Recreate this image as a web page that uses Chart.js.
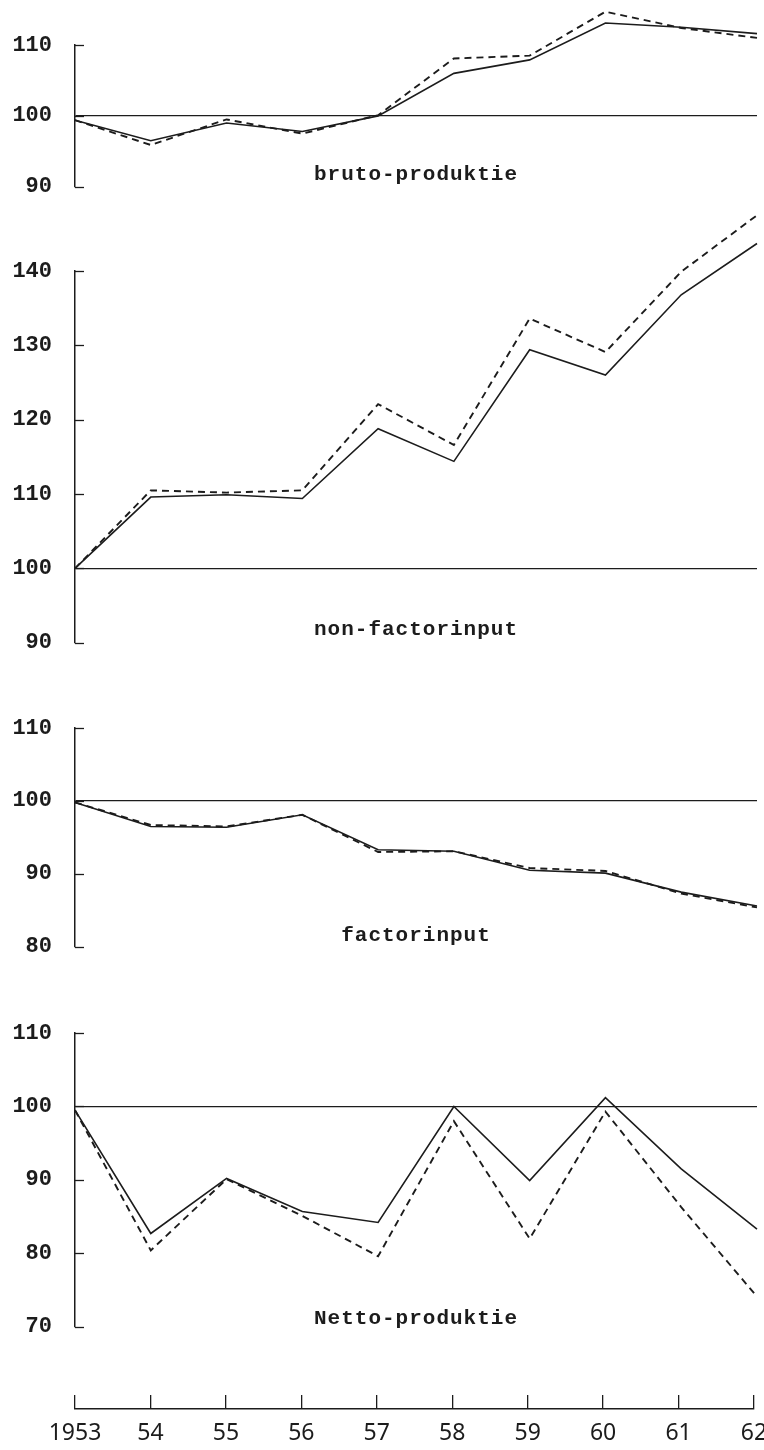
<!DOCTYPE html>
<html>
<head>
<meta charset="utf-8">
<script src="https://cdn.jsdelivr.net/npm/chart.js@4.4.0/dist/chart.umd.min.js"></script>
<style>
  html, body { margin: 0; width: 764px; height: 1450px; overflow: hidden; background: #fff; }
  canvas { position: absolute; left: 0; }
</style>
</head>
<body>
<canvas id="p1"></canvas>
<canvas id="p2"></canvas>
<canvas id="p3"></canvas>
<canvas id="p4"></canvas>
<canvas id="jaren"></canvas>
<script>
const years = ['1953', '54', '55', '56', '57', '58', '59', '60', '61', '62'];

// indexcijfers per reeks: doorgetrokken lijn en gestreepte lijn
const brutoSolid  = [99.4, 96.5, 99.0, 97.8, 100.0, 106.0, 107.9, 113.1, 112.5, 111.6];
const brutoDashed = [99.4, 95.9, 99.5, 97.5, 100.1, 108.1, 108.5, 114.7, 112.4, 111.0];

const nonFactorSolid  = [100.0, 109.6, 109.9, 109.4, 118.8, 114.4, 129.4, 126.0, 136.8, 143.7];
const nonFactorDashed = [100.0, 110.5, 110.2, 110.5, 122.1, 116.6, 133.6, 129.1, 139.9, 147.5];

const factorSolid  = [99.8, 96.5, 96.4, 98.1, 93.3, 93.1, 90.5, 90.1, 87.5, 85.6];
const factorDashed = [99.8, 96.7, 96.5, 98.1, 93.0, 93.1, 90.8, 90.4, 87.3, 85.4];

const nettoSolid  = [99.5, 82.7, 90.2, 85.7, 84.2, 100.0, 89.9, 101.2, 91.5, 83.3];
const nettoDashed = [99.5, 80.4, 90.1, 85.1, 79.6, 98.0, 82.0, 99.3, 86.3, 74.1];

const ink = '#1c1c1c';
const mono = '"Liberation Mono", "DejaVu Sans Mono", monospace';

// short tick marks pointing into the plot, and the panel name
const panelDecor = {
  id: 'panelDecor',
  afterDatasetsDraw(chart, args, opts) {
    const { ctx, chartArea } = chart;
    const y = chart.scales.y;
    ctx.save();
    ctx.strokeStyle = ink;
    ctx.lineWidth = 1.3;
    y.ticks.forEach(t => {
      const py = Math.round(y.getPixelForValue(t.value)) + 0.5;
      ctx.beginPath();
      ctx.moveTo(chartArea.left, py);
      ctx.lineTo(chartArea.left + 9, py);
      ctx.stroke();
    });
    ctx.fillStyle = ink;
    ctx.font = 'bold 21px ' + mono;
    ctx.letterSpacing = '1px';
    ctx.textAlign = 'center';
    ctx.textBaseline = 'alphabetic';
    ctx.fillText(opts.text, (chartArea.left + chartArea.right) / 2, y.getPixelForValue(opts.at));
    ctx.restore();
  }
};

const panels = [
  { id: 'p1', top: 45, bottom: 193, min: 90, max: 110, name: 'bruto-produktie', nameAt: 91, solid: brutoSolid, dashed: brutoDashed },
  { id: 'p2', top: 271, bottom: 649, min: 90, max: 140, name: 'non-factorinput', nameAt: 91.1, solid: nonFactorSolid, dashed: nonFactorDashed },
  { id: 'p3', top: 728, bottom: 953, min: 80, max: 110, name: 'factorinput', nameAt: 80.8, solid: factorSolid, dashed: factorDashed },
  { id: 'p4', top: 1033, bottom: 1333, min: 70, max: 110, name: 'Netto-produktie', nameAt: 70.4, solid: nettoSolid, dashed: nettoDashed },
];

const padTop = 70, padBottom = 30;

panels.forEach(p => {
  const cv = document.getElementById(p.id);
  cv.width = 800;
  cv.height = p.bottom - p.top + padTop + padBottom;
  cv.style.top = (p.top - padTop) + 'px';

  new Chart(cv, {
    type: 'line',
    data: {
      labels: years,
      datasets: [
        { data: p.solid, borderColor: ink, borderWidth: 1.6, pointRadius: 0, clip: false },
        { data: p.dashed, borderColor: ink, borderWidth: 1.9, borderDash: [7, 5], pointRadius: 0, clip: false },
      ],
    },
    options: {
      responsive: false,
      animation: false,
      layout: { padding: { top: padTop, bottom: padBottom, left: 0, right: 43 } },
      plugins: {
        legend: { display: false },
        tooltip: { enabled: false },
        panelDecor: { text: p.name, at: p.nameAt },
      },
      scales: {
        x: { display: false, offset: false },
        y: {
          min: p.min,
          max: p.max,
          ticks: { stepSize: 10, color: ink, padding: 23, font: { family: mono, size: 22, weight: 'bold' } },
          grid: {
            drawTicks: false,
            lineWidth: 1.2,
            color: c => (c.tick && c.tick.value === 100 ? ink : 'rgba(0,0,0,0)'),
          },
          border: { display: true, color: ink, width: 1.5 },
          afterFit: s => { s.width = 75; },
        },
      },
    },
    plugins: [panelDecor],
  });
});

// shared year axis under the four panels
const ax = document.getElementById('jaren');
ax.width = 800;
ax.height = 65;
ax.style.top = '1385px';

new Chart(ax, {
  type: 'line',
  data: { labels: years, datasets: [] },
  options: {
    responsive: false,
    animation: false,
    layout: { padding: { top: 10, bottom: 0, left: 75, right: 46 } },
    plugins: { legend: { display: false }, tooltip: { enabled: false } },
    scales: {
      x: {
        offset: false,
        grid: { drawTicks: false, color: ink, lineWidth: 1.3 },
        border: { display: true, color: ink, width: 1.5 },
        ticks: { color: ink, padding: 11, maxRotation: 0, autoSkip: false, font: { family: '"Noto Sans"', size: 23 } },
        afterFit: s => { s.height = 41; },
      },
      y: { display: false },
    },
  },
});
</script>
</body>
</html>
